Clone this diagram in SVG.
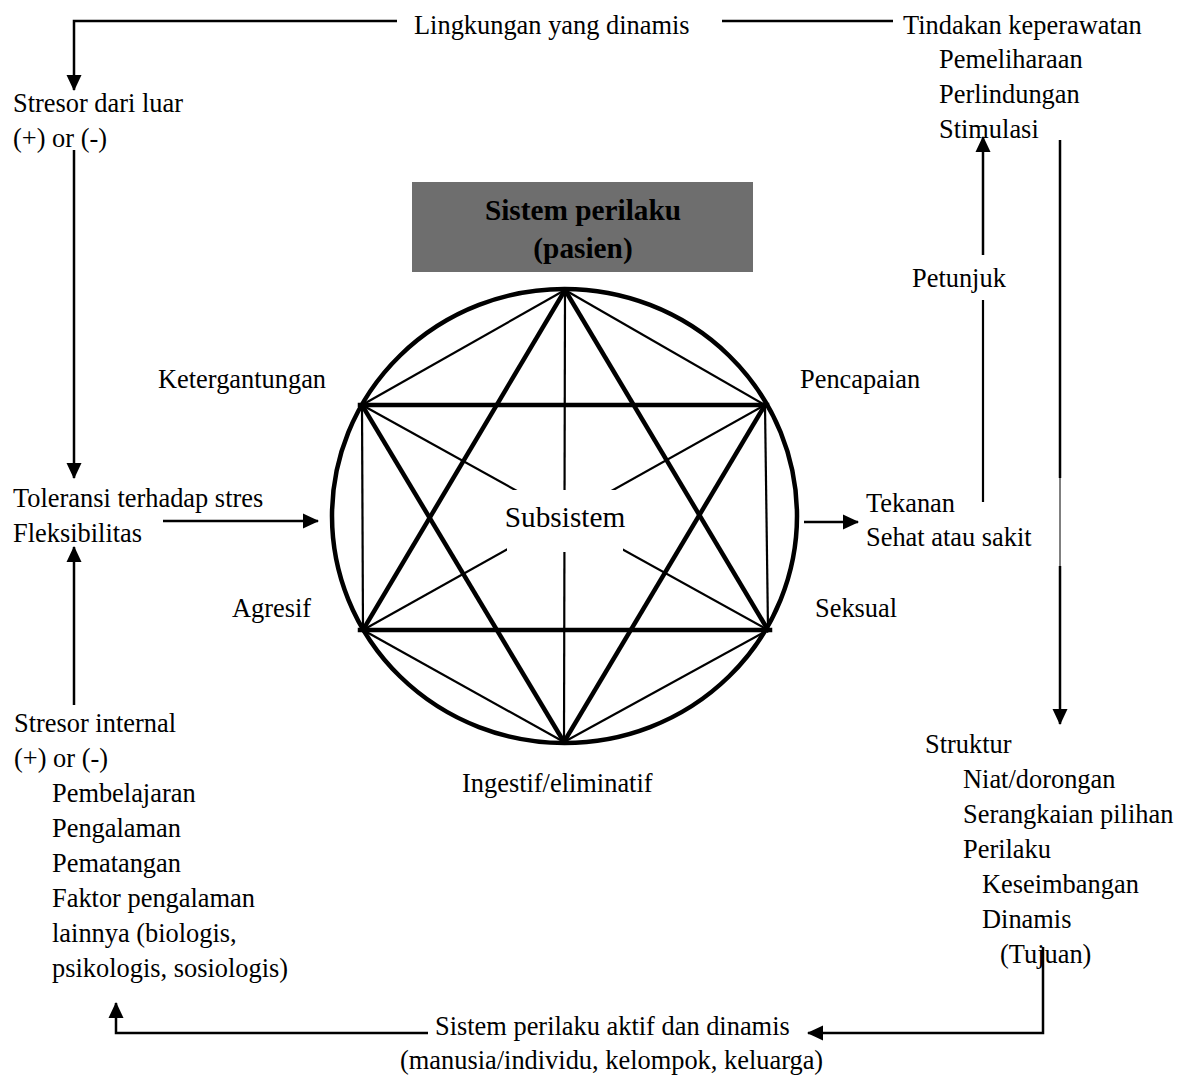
<svg xmlns="http://www.w3.org/2000/svg" width="1187" height="1075" viewBox="0 0 1187 1075">
<style>
text{font-family:"Liberation Serif","Times New Roman",serif;font-size:26.4px;fill:#000}
.big{font-size:29.3px}
.bold{font-weight:bold}
.thick{stroke:#000;stroke-width:4.5;fill:none;stroke-linecap:square}
.thin{stroke:#000;stroke-width:2.2;fill:none}
.con{stroke:#000;stroke-width:2.5;fill:none}
</style>
<defs>
<marker id="ah" markerUnits="userSpaceOnUse" markerWidth="16" markerHeight="16" viewBox="0 0 16 16" refX="15" refY="8" orient="auto">
<path d="M0,0.5 L16,8 L0,15.5 z" fill="#000"/>
</marker>
</defs>
<rect width="1187" height="1075" fill="#fff"/>

<g id="title-box">
<rect x="412" y="182" width="341" height="90" fill="#6e6e6e"/>
<text class="big bold" x="583" y="220" text-anchor="middle">Sistem perilaku</text>
<text class="big bold" x="583" y="258" text-anchor="middle">(pasien)</text>
</g>

<g id="subsystem-figure">
<ellipse cx="564.5" cy="516" rx="232.5" ry="227" class="thick"/>
<g class="thin">
<line x1="565" y1="290" x2="362" y2="405"/>
<line x1="565" y1="290" x2="765" y2="405"/>
<line x1="564" y1="742" x2="363" y2="630"/>
<line x1="564" y1="742" x2="768" y2="630"/>
<line x1="362" y1="405" x2="363" y2="630"/>
<line x1="765" y1="405" x2="768" y2="630"/>
<line x1="565" y1="290" x2="564" y2="742"/>
<line x1="362" y1="405" x2="768" y2="630"/>
<line x1="765" y1="405" x2="363" y2="630"/>
</g>
<rect x="507" y="490" width="116" height="62" fill="#fff"/>
<g class="thick">
<line x1="565" y1="290" x2="363" y2="630"/>
<line x1="565" y1="290" x2="768" y2="630"/>
<line x1="360" y1="630" x2="770" y2="630"/>
<line x1="564" y1="742" x2="362" y2="405"/>
<line x1="564" y1="742" x2="765" y2="405"/>
<line x1="360" y1="405" x2="767" y2="405"/>
</g>
<text id="subsistem" class="big" x="565" y="527" text-anchor="middle">Subsistem</text>
</g>

<g id="label-ketergantungan"><text x="158" y="388">Ketergantungan</text></g>
<g id="label-pencapaian"><text x="800" y="388">Pencapaian</text></g>
<g id="label-agresif"><text x="232" y="617">Agresif</text></g>
<g id="label-seksual"><text x="815" y="617">Seksual</text></g>
<g id="label-ingestif"><text x="462" y="792">Ingestif/eliminatif</text></g>

<g id="node-lingkungan"><text x="414" y="34">Lingkungan yang dinamis</text></g>

<g id="node-tindakan">
<text x="903" y="34">Tindakan keperawatan</text>
<text x="939" y="68">Pemeliharaan</text>
<text x="939" y="103">Perlindungan</text>
<text x="939" y="138">Stimulasi</text>
</g>

<g id="node-stresor-luar">
<text x="13" y="112">Stresor dari luar</text>
<text x="13" y="147">(+) or (-)</text>
</g>

<g id="node-toleransi">
<text x="13" y="507">Toleransi terhadap stres</text>
<text x="13" y="542">Fleksibilitas</text>
</g>

<g id="node-stresor-internal">
<text x="14" y="732">Stresor internal</text>
<text x="14" y="767">(+) or (-)</text>
<text x="52" y="802">Pembelajaran</text>
<text x="52" y="837">Pengalaman</text>
<text x="52" y="872">Pematangan</text>
<text x="52" y="907">Faktor pengalaman</text>
<text x="52" y="942">lainnya (biologis,</text>
<text x="52" y="977">psikologis, sosiologis)</text>
</g>

<g id="node-petunjuk"><text x="912" y="287">Petunjuk</text></g>

<g id="node-tekanan">
<text x="866" y="512">Tekanan</text>
<text x="866" y="546">Sehat atau sakit</text>
</g>

<g id="node-struktur">
<text x="925" y="753">Struktur</text>
<text x="963" y="788">Niat/dorongan</text>
<text x="963" y="823">Serangkaian pilihan</text>
<text x="963" y="858">Perilaku</text>
<text x="982" y="893">Keseimbangan</text>
<text x="982" y="928">Dinamis</text>
<text x="1000" y="963">(Tujuan)</text>
</g>

<g id="node-sistem-aktif">
<text x="435" y="1035">Sistem perilaku aktif dan dinamis</text>
<text x="400" y="1069">(manusia/individu, kelompok, keluarga)</text>
</g>

<g id="connectors">
<path class="con" d="M397,21 H74 V90" marker-end="url(#ah)"/>
<path class="con" d="M722,21 H893"/>
<path class="con" d="M74,150 V478" marker-end="url(#ah)"/>
<path class="con" d="M74,705 V547" marker-end="url(#ah)"/>
<path class="con" d="M163,521 H318" marker-end="url(#ah)"/>
<path class="con" d="M804,522 H858" marker-end="url(#ah)"/>
<path class="thin" d="M983,502 V300"/>
<path class="con" d="M983,255 V137" marker-end="url(#ah)"/>
<path class="con" d="M1060,140 V478"/>
<path stroke="#000" stroke-width="1" d="M1060,478 V566"/>
<path class="con" d="M1060,566 V724" marker-end="url(#ah)"/>
<path class="con" d="M1043,947 V1033 H808" marker-end="url(#ah)"/>
<path class="con" d="M428,1033 H116 V1003" marker-end="url(#ah)"/>
</g>
</svg>
